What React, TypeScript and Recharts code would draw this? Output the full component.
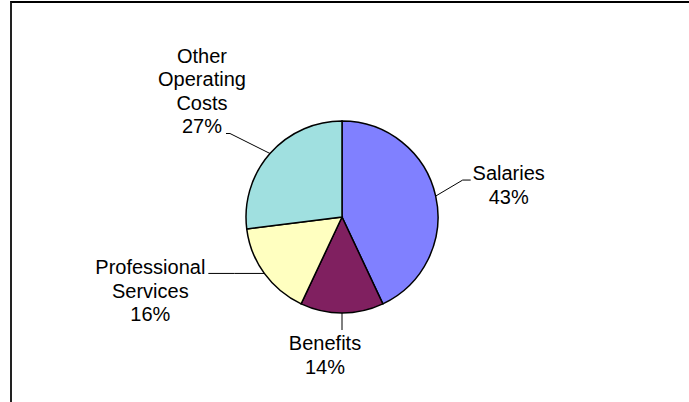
import React from "react";
import { PieChart, Pie, Cell } from "recharts";

// Budget breakdown by category (percent of total)
const categories = ["Salaries", "Benefits", "Professional Services", "Other Operating Costs"];
const shares = [43, 14, 16, 27];
const sliceColors = ["#8080FF", "#802060", "#FFFFC0", "#A0E0E0"];
// How each category name wraps in its label
const nameLines = [["Salaries"], ["Benefits"], ["Professional", "Services"], ["Other", "Operating", "Costs"]];

const data = categories.map((name, i) => ({ name, value: shares[i], lines: nameLines[i] }));

// Leader-line and label placement, relative to the point where the
// leader leaves the slice edge: elbow, end of the leader, text centre x and
// first baseline.
const labelLayout: Record<string, { elbow: [number, number]; end: [number, number]; tx: number; ty: number }> = {
  Salaries: { elbow: [27, -16], end: [35, -16], tx: 73, ty: -16 },
  Benefits: { elbow: [0, 17], end: [0, 17], tx: -17, ty: 37 },
  "Professional Services": { elbow: [-30, 0], end: [-56, 0], tx: -114, ty: 1 },
  "Other Operating Costs": { elbow: [-40, -20], end: [-44, -20], tx: -68, ty: -91 },
};

const RAD = Math.PI / 180;
const LINE_HEIGHT = 23.5;

function renderLabel(props: any) {
  const { cx, cy, midAngle, outerRadius, payload, percent } = props;
  const name: string = payload.name;
  const layout = labelLayout[name];
  const px = cx + outerRadius * Math.cos(-midAngle * RAD);
  const py = cy + outerRadius * Math.sin(-midAngle * RAD);
  const ex = px + layout.elbow[0];
  const ey = py + layout.elbow[1];
  const fx = px + layout.end[0];
  const fy = py + layout.end[1];
  const lines: string[] = [...payload.lines, `${Math.round(percent * 100)}%`];
  const tx = px + layout.tx;
  const ty = py + layout.ty;
  return (
    <g key={`label-${name}`}>
      <path d={`M${px},${py}L${ex},${ey}L${fx},${fy}`} stroke="#000" strokeWidth={1} fill="none" />
      <text
        x={tx}
        y={ty}
        textAnchor="middle"
        fontFamily="'Liberation Sans', Arial, sans-serif"
        fontSize={20}
        fill="#000"
      >
        {lines.map((l, i) => (
          <tspan key={i} x={tx} y={ty + i * LINE_HEIGHT}>
            {l}
          </tspan>
        ))}
      </text>
    </g>
  );
}

export default function App() {
  return (
    <div style={{ position: "absolute", left: 0, top: 0, width: 689, height: 402, overflow: "hidden", background: "#fff" }}>
      <div
        style={{
          position: "absolute",
          left: 10,
          top: 1,
          width: 700,
          height: 420,
          borderTop: "2px solid #000",
          borderLeft: "2px solid #222",
          boxSizing: "border-box",
        }}
      />
      <div style={{ position: "absolute", left: 0, top: 0 }}>
        <PieChart width={689} height={402} margin={{ top: 0, right: 0, bottom: 0, left: 0 }}>
          <Pie
            data={data}
            dataKey="value"
            nameKey="name"
            cx={342}
            cy={217}
            outerRadius={96}
            startAngle={90}
            endAngle={-270}
            stroke="#000"
            strokeWidth={1.5}
            label={renderLabel}
            labelLine={false}
            isAnimationActive={false}
          >
            {data.map((d, i) => (
              <Cell key={d.name} fill={sliceColors[i]} />
            ))}
          </Pie>
        </PieChart>
      </div>
    </div>
  );
}
